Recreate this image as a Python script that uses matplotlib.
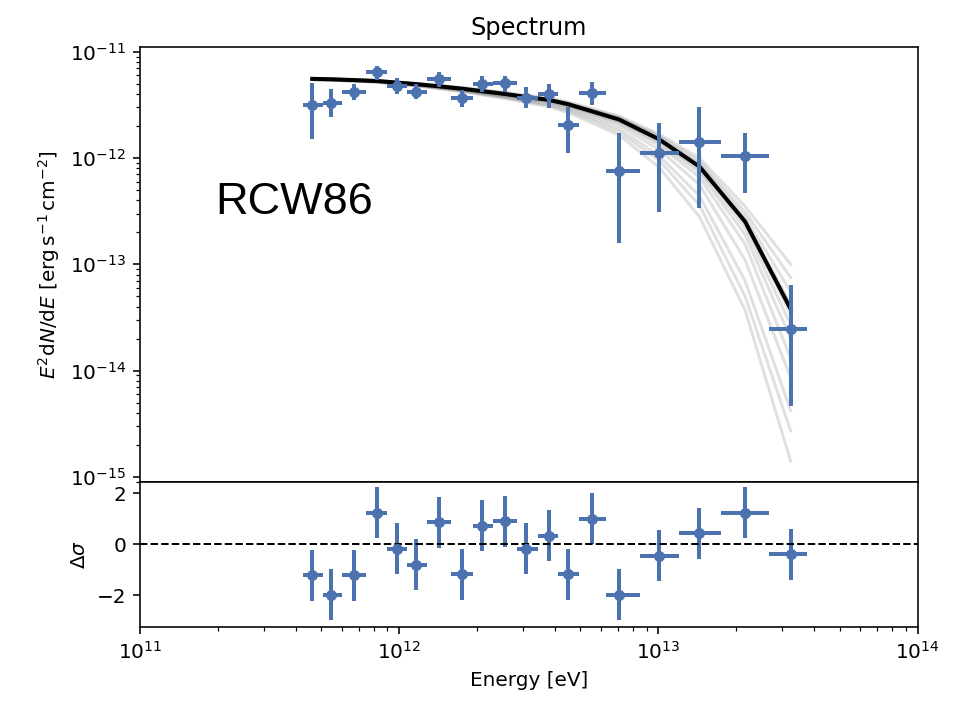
import numpy as np
import matplotlib.pyplot as plt

# flux points (energies in TeV, fluxes in 1e-12 erg s-1 cm-2)
e_ref = [0.462, 0.547, 0.671, 0.818, 0.977, 1.16, 1.43, 1.75, 2.09, 2.56,
         3.08, 3.78, 4.49, 5.53, 7.05, 10.05, 14.4, 21.6, 32.4]
e_min = [0.427, 0.506, 0.603, 0.745, 0.895, 1.07, 1.28, 1.58, 1.93, 2.31,
         2.84, 3.44, 4.11, 4.94, 6.27, 8.49, 12.05, 17.5, 26.6]
e_max = [0.506, 0.603, 0.745, 0.895, 1.07, 1.28, 1.58, 1.93, 2.31, 2.84,
         3.44, 4.11, 4.94, 6.27, 8.49, 12.05, 17.5, 26.6, 37.5]
flux = [3.16, 3.27, 4.15, 6.40, 4.79, 4.15, 5.50, 3.65, 4.97, 5.05,
        3.65, 3.97, 2.04, 4.06, 0.76, 1.12, 1.41, 1.045, 0.0244]
flux_errp = [1.89, 1.16, 0.78, 0.93, 0.9, 0.78, 0.99, 0.71, 0.97, 0.89,
             0.97, 0.96, 1.0, 1.16, 0.95, 1.03, 1.63, 0.66, 0.0394]
flux_errn = [1.65, 0.85, 0.63, 0.98, 0.8, 0.59, 0.81, 0.61, 0.82, 0.84,
             0.71, 1.0, 0.92, 0.9, 0.6, 0.81, 1.07, 0.58, 0.0198]
resid = [-1.23, -1.99, -1.23, 1.24, -0.19, -0.81, 0.86, -1.18, 0.73, 0.89,
         -0.19, 0.33, -1.18, 0.99, -1.99, -0.45, 0.42, 1.24, -0.39]
resid_err = [1.0] * 19

# best fit model at e_ref
best = [5.55, 5.5, 5.4, 5.3, 5.12, 4.95, 4.72, 4.48, 4.25, 4.0, 3.75, 3.52,
        3.2, 2.75, 2.3, 1.5, 0.83, 0.252, 0.0378]

# posterior sample curves at e_ref
samples = [
    [5.6, 5.55, 5.46, 5.36, 5.2, 5.03, 4.82, 4.6, 4.38, 4.13, 3.9, 3.68, 3.36, 2.92, 2.48, 1.68, 1.0, 0.35, 0.1],
    [5.58, 5.53, 5.43, 5.33, 5.16, 4.99, 4.77, 4.54, 4.32, 4.07, 3.83, 3.6, 3.29, 2.85, 2.41, 1.61, 0.93, 0.31, 0.075],
    [5.57, 5.52, 5.42, 5.32, 5.14, 4.97, 4.75, 4.51, 4.28, 4.04, 3.79, 3.56, 3.25, 2.8, 2.36, 1.56, 0.88, 0.28, 0.055],
    [5.56, 5.51, 5.41, 5.31, 5.13, 4.96, 4.73, 4.49, 4.26, 4.01, 3.76, 3.53, 3.21, 2.76, 2.31, 1.51, 0.84, 0.26, 0.042],
    [5.54, 5.49, 5.39, 5.29, 5.11, 4.94, 4.71, 4.47, 4.24, 3.99, 3.74, 3.51, 3.19, 2.74, 2.29, 1.49, 0.82, 0.245, 0.034],
    [5.53, 5.48, 5.38, 5.28, 5.1, 4.93, 4.7, 4.45, 4.22, 3.97, 3.72, 3.48, 3.16, 2.71, 2.25, 1.45, 0.78, 0.22, 0.027],
    [5.52, 5.47, 5.37, 5.27, 5.09, 4.91, 4.68, 4.43, 4.19, 3.94, 3.68, 3.44, 3.12, 2.66, 2.2, 1.4, 0.73, 0.19, 0.02],
    [5.5, 5.45, 5.35, 5.25, 5.07, 4.89, 4.65, 4.4, 4.16, 3.9, 3.64, 3.4, 3.07, 2.6, 2.13, 1.32, 0.66, 0.155, 0.013],
    [5.48, 5.43, 5.33, 5.22, 5.04, 4.86, 4.61, 4.36, 4.11, 3.85, 3.58, 3.33, 2.99, 2.5, 2.02, 1.2, 0.56, 0.11, 0.0085],
    [5.46, 5.4, 5.3, 5.19, 5.0, 4.81, 4.56, 4.3, 4.04, 3.77, 3.49, 3.23, 2.88, 2.38, 1.88, 1.05, 0.44, 0.07, 0.0042],
    [5.45, 5.39, 5.28, 5.17, 4.97, 4.78, 4.52, 4.25, 3.98, 3.7, 3.41, 3.14, 2.78, 2.27, 1.76, 0.95, 0.36, 0.05, 0.0027],
    [5.44, 5.38, 5.27, 5.15, 4.95, 4.75, 4.48, 4.2, 3.92, 3.62, 3.32, 3.04, 2.66, 2.14, 1.64, 0.82, 0.28, 0.037, 0.0014],
]

E = np.array(e_ref) * 1e12
xerr = [E - np.array(e_min) * 1e12, np.array(e_max) * 1e12 - E]
F = np.array(flux) * 1e-12
yerr = [np.array(flux_errn) * 1e-12, np.array(flux_errp) * 1e-12]
blue = '#4c72b0'

fig = plt.figure(figsize=(955 / 144, 704 / 144), dpi=144)
ax1 = fig.add_axes([0.1466, 0.3158, 0.8142, 0.6179])
ax2 = fig.add_axes([0.1466, 0.1094, 0.8142, 0.2064], sharex=ax1)

for s in samples:
    ax1.plot(E, np.array(s) * 1e-12, color='k', alpha=0.12, lw=1.5)
ax1.plot(E, np.array(best) * 1e-12, color='k', lw=2)
ax1.errorbar(E, F, xerr=xerr, yerr=yerr, fmt='o', color=blue, ms=4.5,
             elinewidth=2, capsize=0)
ax1.set_xscale('log')
ax1.set_yscale('log')
ax1.set_xlim(1e11, 1e14)
ax1.set_ylim(9.0e-16, 1.114e-11)
ax1.set_ylabel(r'$E^2\mathrm{d}N/\mathrm{d}E$ [$\mathrm{erg\,s^{-1}\,cm^{-2}}$]')
ax1.set_title('Spectrum')
ax1.tick_params(axis='x', which='both', bottom=False, labelbottom=False)
ax1.text(0.0965, 0.615, 'RCW86', transform=ax1.transAxes, fontsize=22.5,
         family='Liberation Sans')

ax2.errorbar(E, resid, xerr=xerr, yerr=resid_err, fmt='o', color=blue, ms=4.5,
             elinewidth=2, capsize=0)
ax2.axhline(0, color='k', ls='--', lw=1)
ax2.set_ylim(-3.25, 2.45)
ax2.set_yticks([-2, 0, 2])
ax2.set_ylabel(r'$\Delta\sigma$')
ax2.set_xlabel('Energy [eV]')

fig.savefig('out.png', dpi=144)
